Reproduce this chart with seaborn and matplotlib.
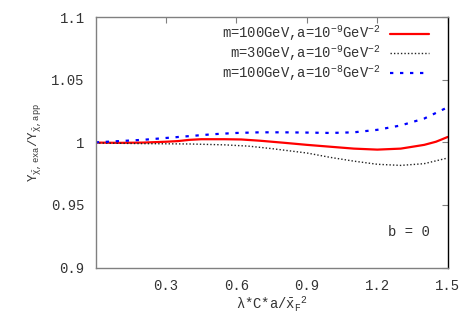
import seaborn as sns
import matplotlib.pyplot as plt
import pandas as pd

# valeurs
x_red = [0.0, 0.1, 0.2, 0.3, 0.35, 0.4, 0.45, 0.55, 0.62, 0.7, 0.8, 0.9, 1.0, 1.1, 1.2, 1.3, 1.4, 1.45, 1.47, 1.5]
y_red = [0.9998, 0.9996, 0.9998, 1.0005, 1.001, 1.002, 1.0025, 1.0025, 1.0023, 1.0013, 0.9997, 0.998,
         0.9965, 0.995, 0.9942, 0.995, 0.998, 1.0005, 1.002, 1.0043]

x_black = [0.0, 0.2, 0.4, 0.55, 0.65, 0.75, 0.9, 1.0, 1.1, 1.2, 1.3, 1.4, 1.5]
y_black = [0.9995, 0.999, 0.9987, 0.998, 0.997, 0.995, 0.9915, 0.988, 0.985, 0.9825, 0.9816, 0.983, 0.9875]

x_blue = [0.0, 0.1, 0.2, 0.3, 0.4, 0.5, 0.6, 0.7, 0.8, 0.9, 1.0, 1.1, 1.2, 1.3, 1.4, 1.5]
y_blue = [1.0, 1.001, 1.002, 1.0035, 1.005, 1.0065, 1.0075, 1.008, 1.008, 1.0078, 1.0075, 1.008,
          1.01, 1.0135, 1.019, 1.028]

labels = [r"m=100GeV,a=10$^{-9}$GeV$^{-2}$",
          r" m=30GeV,a=10$^{-9}$GeV$^{-2}$",
          r"m=100GeV,a=10$^{-8}$GeV$^{-2}$"]
x_ticks = [0.3, 0.6, 0.9, 1.2, 1.5]
y_ticks = [0.9, 0.95, 1.0, 1.05, 1.1]
y_tick_labels = ["0.9", "0.95", "1", "1.05", "1.1"]

sns.set_style("white")
plt.rcParams['font.family'] = ['Liberation Mono', 'DejaVu Sans Mono']
plt.rcParams['mathtext.fontset'] = 'custom'
plt.rcParams['mathtext.rm'] = 'Liberation Mono'
plt.rcParams['mathtext.it'] = 'Liberation Mono'
plt.rcParams['mathtext.bf'] = 'Liberation Mono'
plt.rcParams['font.size'] = 10

fig = plt.figure(figsize=(4.69, 3.28), dpi=100)
ax = fig.add_axes([0.204, 0.184, 0.7506, 0.764])

sns.lineplot(x=x_red, y=y_red, ax=ax, color='#ff0000', linewidth=1.6, label=labels[0])
sns.lineplot(x=x_black, y=y_black, ax=ax, color='#222222', linewidth=1.0, linestyle=(0, (1, 1.5)),
             label=labels[1])
sns.lineplot(x=x_blue, y=y_blue, ax=ax, color='#0000ff', linewidth=1.6, linestyle=(0, (1.5, 3)),
             label=labels[2])

ax.set_xlim(0, 1.5)
ax.set_ylim(0.9, 1.1)
ax.set_xticks(x_ticks)
ax.set_xticklabels([f"{t:g}" for t in x_ticks])
ax.set_yticks(y_ticks)
ax.set_yticklabels(y_tick_labels)
ax.tick_params(direction='in', length=4, width=0.8, top=True, right=True,
               colors='#808080', labelcolor='#333333', labelsize=10, pad=8)

for side in ['left', 'bottom', 'top']:
    ax.spines[side].set_color('#808080')
    ax.spines[side].set_linewidth(1.0)
ax.spines['right'].set_color('black')
ax.spines['right'].set_linewidth(1.0)

ax.set_xlabel(r"$\lambda$*C*a/$\bar{\mathrm{x}}_\mathrm{F}$$^{2}$", color='#333333', fontsize=10, labelpad=1)
ax.set_ylabel(r"Y$_{\bar{\chi},\mathrm{exa}}$/Y$_{\bar{\chi},\mathrm{app}}$", color='#333333', fontsize=9,
              labelpad=6)

ax.text(1.245, 0.9286, "b = 0", color='#333333', fontsize=10, va='center', ha='left')

leg = ax.legend(loc='upper right', bbox_to_anchor=(0.962, 0.995), frameon=False, markerfirst=False,
                handlelength=2.8, handletextpad=0.7, labelspacing=0.0, borderaxespad=0, fontsize=10)
for t in leg.get_texts():
    t.set_color('#333333')

fig.savefig("out.png", dpi=100)
